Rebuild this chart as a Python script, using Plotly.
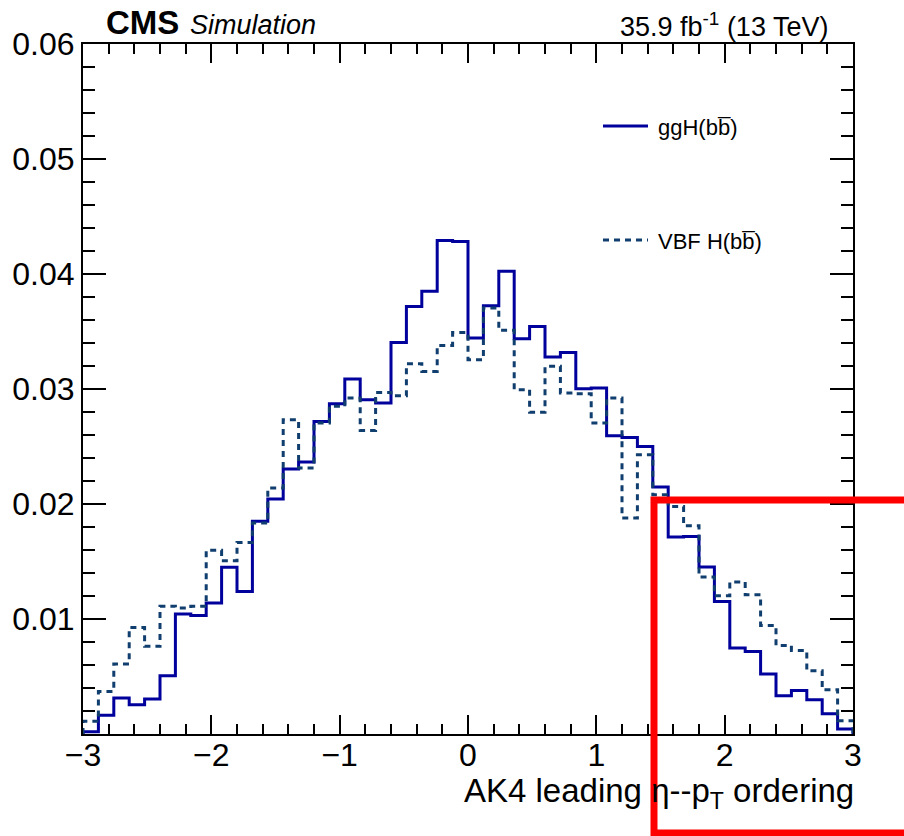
import numpy as np
import plotly.graph_objects as go

# ---- data ----
bin_low = -3.0
bin_high = 3.0
n_bins = 50

ggH_vals = [0.0002, 0.00162, 0.00313, 0.00255, 0.00304, 0.00507, 0.01043, 0.01031, 0.01139, 0.01449,
            0.0124, 0.01849, 0.02043, 0.02304, 0.02365, 0.02718, 0.02872, 0.03087, 0.02907, 0.02878,
            0.03405, 0.03718, 0.03849, 0.04292, 0.04283, 0.03443, 0.03724, 0.04023, 0.03437, 0.03544,
            0.03278, 0.03318, 0.03003, 0.03009, 0.02594, 0.02579, 0.02501, 0.02148, 0.01713, 0.01718,
            0.01452, 0.01153, 0.00748, 0.00718, 0.00522, 0.00333, 0.00379, 0.00298, 0.00177, 0.00043]

vbf_vals = [0.0011, 0.0037, 0.00609, 0.00927, 0.00762, 0.0111, 0.01096, 0.0111, 0.01597, 0.01507,
            0.01666, 0.01835, 0.02139, 0.02733, 0.02313, 0.02704, 0.02849, 0.02922, 0.0264, 0.0297,
            0.02942, 0.0322, 0.03153, 0.03379, 0.03492, 0.03255, 0.03704, 0.0351, 0.02994, 0.02797,
            0.03197, 0.02965, 0.02959, 0.02704, 0.02922, 0.01878, 0.02429, 0.02081, 0.01979, 0.01811,
            0.01365, 0.01203, 0.01322, 0.01211, 0.00944, 0.0077, 0.00727, 0.0055, 0.00385, 0.00116]

x_ticks = [-3, -2, -1, 0, 1, 2, 3]
y_ticks = [0.01, 0.02, 0.03, 0.04, 0.05, 0.06]
labels = ["ggH(bb\u0305)", "VBF H(bb\u0305)"]

FONT = "Liberation Sans, Arial, Helvetica, sans-serif"

edges = np.linspace(bin_low, bin_high, n_bins + 1)


def step_xy(vals):
    xs = [edges[0]] + list(edges[:-1]) + [edges[-1], edges[-1]]
    ys = [0.0] + list(vals) + [vals[-1], 0.0]
    return xs, ys


fig = go.Figure()
x1, y1 = step_xy(ggH_vals)
fig.add_trace(go.Scatter(x=x1, y=y1, mode="lines", line_shape="hv",
                         line=dict(color="#00009c", width=3), name=labels[0],
                         showlegend=False))
x2, y2 = step_xy(vbf_vals)
fig.add_trace(go.Scatter(x=x2, y=y2, mode="lines", line_shape="hv",
                         line=dict(color="#103e6e", width=3, dash="6px,5px"), name=labels[1],
                         showlegend=False))

fig.update_xaxes(range=[bin_low, bin_high], tickvals=x_ticks,
                 ticktext=[str(v).replace("-", "\u2212") for v in x_ticks],
                 ticks="inside", ticklen=19, tickwidth=1.5, tickcolor="black",
                 minor=dict(dtick=0.2, tick0=0, ticks="inside", ticklen=10, tickwidth=1.5, tickcolor="black"),
                 showline=True, linewidth=2, linecolor="black", mirror="allticks",
                 showgrid=False, zeroline=False, ticklabelstandoff=-8,
                 tickfont=dict(family=FONT, size=32, color="black"))
fig.update_yaxes(range=[0, 0.06], tickvals=y_ticks,
                 ticktext=["%.2f" % v for v in y_ticks],
                 ticks="inside", ticklen=23, tickwidth=1.5, tickcolor="black",
                 minor=dict(dtick=0.002, tick0=0, ticks="inside", ticklen=12, tickwidth=1.5, tickcolor="black"),
                 showline=True, linewidth=2, linecolor="black", mirror="allticks",
                 showgrid=False, zeroline=False,
                 tickfont=dict(family=FONT, size=32, color="black"))

L, R, T, B = 83, 51, 44, 102
W, H = 904, 836
pw, ph = W - L - R, H - T - B


def px(xp):
    return (xp - L) / pw


def py(yp):
    return (H - B - yp) / ph


annotations = [
    dict(x=px(104), y=py(23), text="<b>CMS</b>", xanchor="left", yanchor="middle",
         font=dict(family=FONT, size=33, color="black")),
    dict(x=px(188), y=py(25), text="<i>Simulation</i>", xanchor="left", yanchor="middle",
         font=dict(family=FONT, size=27, color="black")),
    dict(x=px(830), y=py(25), text="35.9 fb<sup>-1</sup> (13 TeV)", xanchor="right", yanchor="middle",
         font=dict(family=FONT, size=27, color="black")),
    dict(x=px(856), y=py(770), text="AK4 leading \u03b7--p<sub>T</sub> ordering", xanchor="right", yanchor="top",
         font=dict(family=FONT, size=33, color="black")),
    dict(x=px(656), y=py(128), text=labels[0], xanchor="left", yanchor="middle",
         font=dict(family=FONT, size=22, color="black")),
    dict(x=px(656), y=py(241), text=labels[1], xanchor="left", yanchor="middle",
         font=dict(family=FONT, size=22, color="black")),
]
for a in annotations:
    a.update(xref="paper", yref="paper", showarrow=False)

shapes = [
    dict(type="line", xref="paper", yref="paper", x0=px(603), x1=px(648), y0=py(126), y1=py(126),
         line=dict(color="#00009c", width=3)),
    dict(type="line", xref="paper", yref="paper", x0=px(603), x1=px(648), y0=py(240), y1=py(240),
         line=dict(color="#103e6e", width=3, dash="6px,5px")),
    dict(type="rect", xref="paper", yref="paper", x0=px(654), x1=px(912), y0=py(500), y1=py(833),
         line=dict(color="#ff0000", width=7), fillcolor="rgba(0,0,0,0)", layer="above"),
]

fig.update_layout(width=W, height=H, margin=dict(l=L, r=R, t=T, b=B, pad=0),
                  paper_bgcolor="white", plot_bgcolor="white",
                  annotations=annotations, shapes=shapes, showlegend=False)

fig.write_html("out.html")
